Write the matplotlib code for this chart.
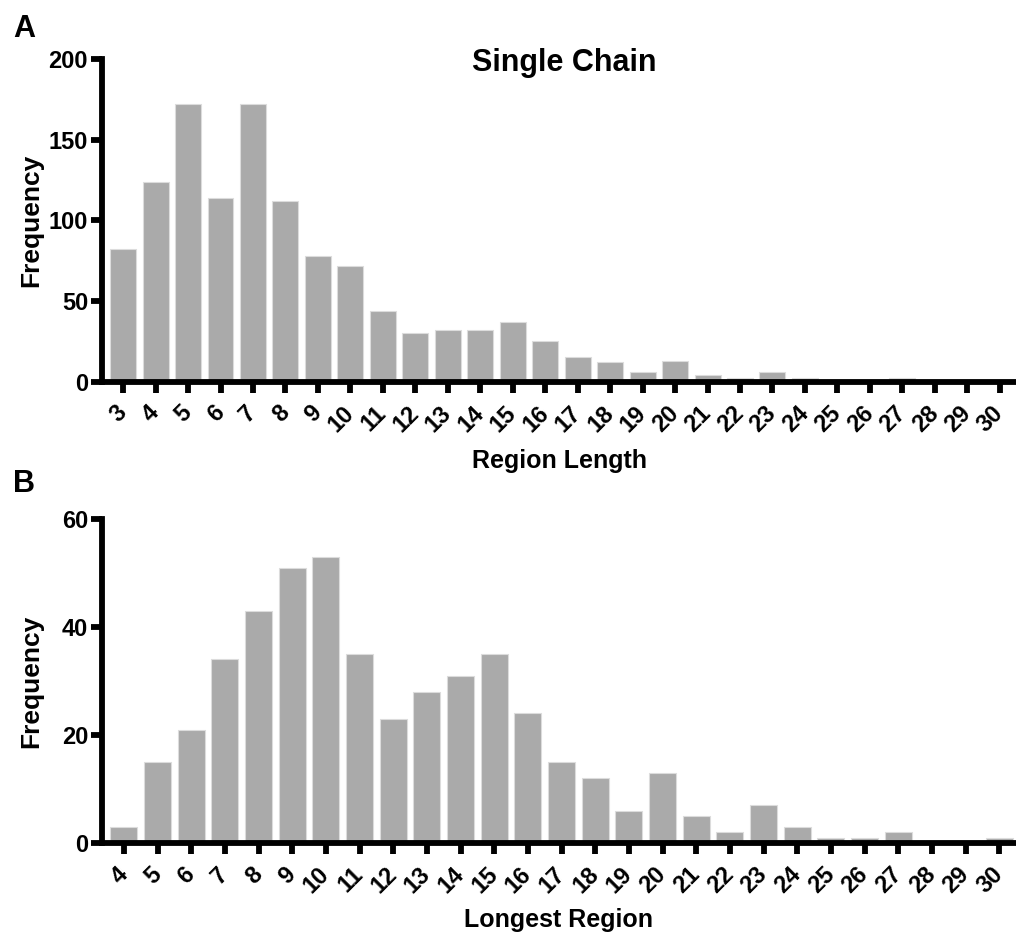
import matplotlib
matplotlib.use("Agg")
import matplotlib.pyplot as plt
import numpy as np

plt.rcParams['font.family'] = ['Liberation Sans', 'DejaVu Sans']
plt.rcParams['font.weight'] = 'bold'

# panel A - single chain region lengths
lengths_a = list(range(3, 31))
freq_a = [82, 124, 172, 114, 172, 112, 78, 72, 44, 30, 32, 32, 37, 25,
          15, 12, 6, 13, 4, 2, 6, 2, 1, 1, 2, 0, 0, 1]

# panel B - longest region
lengths_b = list(range(4, 31))
freq_b = [3, 15, 21, 34, 43, 51, 53, 35, 23, 28, 31, 35, 24, 15, 12, 6,
          13, 5, 2, 7, 3, 1, 1, 2, 0, 0, 1]

bar_col = '#aaaaaa'
W, H = 1016, 934

fig = plt.figure(figsize=(W / 100, H / 100), dpi=100)


def panel(rect, cats, vals, ymax, yticks, xlabel, xlab_y):
    ax = fig.add_axes(rect)
    x = np.arange(len(cats))
    ax.bar(x, vals, width=0.8, color=bar_col, edgecolor='#dcdcdc', linewidth=0.8)
    ax.set_xlim(-0.65, len(cats) - 0.5)
    ax.set_ylim(0, ymax)
    ax.set_yticks(yticks)
    ax.set_xticks(x)
    ax.set_xticklabels([str(c) for c in cats], rotation=45, ha='right',
                       va='center', rotation_mode='anchor')
    for s in ['top', 'right']:
        ax.spines[s].set_visible(False)
    for s in ['left', 'bottom']:
        ax.spines[s].set_linewidth(4.2)
    ax.tick_params(width=4.2, length=8, labelsize=17)
    ax.tick_params(axis='x', pad=12)
    ax.tick_params(axis='y', pad=2)
    ax.set_ylabel('Frequency', fontsize=19, fontweight='bold')
    ax.yaxis.set_label_coords(-0.064, 0.5)
    ax.set_xlabel(xlabel, fontsize=18, fontweight='bold')
    ax.xaxis.set_label_coords(0.5, xlab_y)
    return ax


ax1 = panel([102 / W, 1 - 381.7 / H, 914 / W, 322.7 / H], lengths_a, freq_a,
            200, [0, 50, 100, 150, 200], 'Region Length', -0.21)
ax2 = panel([102 / W, 1 - 843 / H, 914 / W, 324 / H], lengths_b, freq_b,
            60, [0, 20, 40, 60], 'Longest Region', -0.2)

fig.text(564 / W, 1 - 71 / H, 'Single Chain', ha='center', va='baseline',
         fontsize=22, fontweight='bold')
fig.text(13 / W, 1 - 37 / H, 'A', ha='left', va='baseline', fontsize=22, fontweight='bold')
fig.text(13 / W, 1 - 492 / H, 'B', ha='left', va='baseline', fontsize=22, fontweight='bold')

fig.savefig('out.png', dpi=100)
